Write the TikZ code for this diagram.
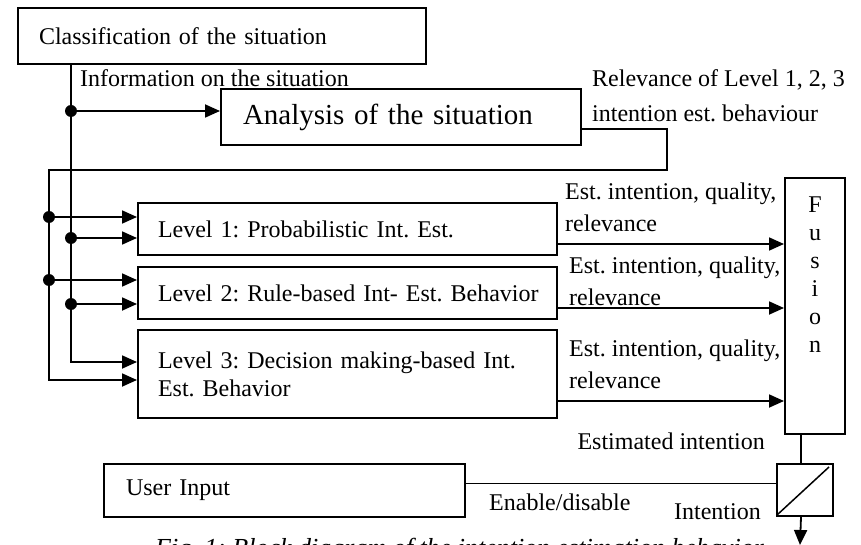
\documentclass[tikz,border=0pt]{standalone}
\usepackage{fontspec}
\setmainfont{Liberation Serif}
\usetikzlibrary{positioning, arrows.meta, calc}

\tikzset{
  blk/.style={draw, line width=2pt, align=left, inner xsep=20pt, inner ysep=0pt},
  wire/.style={line width=1.8pt},
  arr/.style={wire, -{Triangle[length=15pt,width=13pt]}},
  lbl/.style={inner sep=0pt, align=left},
  tap/.style={circle, fill, inner sep=0pt, minimum size=12pt},
}

\begin{document}
\frenchspacing
\begin{tikzpicture}[x=1pt, y=-1pt, font=\fontsize{24}{32}\selectfont]

  \useasboundingbox (0,0) rectangle (861,545);

  \node[blk, anchor=north west, inner xsep=21pt, text width=366pt, minimum height=56pt] (cls) at (17,7) {Classification of the situation};
  \node[blk, anchor=north west, inner xsep=22pt, text width=316pt, minimum height=56pt,
        font=\fontsize{29}{34}\selectfont] (ana) at (220,88) {Analysis of the situation};
  \node[blk, anchor=north west, text width=379pt, minimum height=52pt] (lvl1) at (137,202) {Level 1: Probabilistic Int. Est.};
  \node[blk, below=10pt of lvl1, text width=379pt, minimum height=52pt] (lvl2) {\mbox{Level 2: Rule-based Int- Est. Behavior}};
  \node[blk, below=9pt of lvl2, text width=379pt, minimum height=88pt,
        font=\fontsize{24}{28}\selectfont] (lvl3) {Level 3: Decision making-based Int.\\Est. Behavior};
  \node[draw, line width=2pt, anchor=north west, inner sep=0pt, minimum width=60pt, minimum height=256pt,
        label={[lbl, align=center, anchor=north, yshift=-20pt, font=\fontsize{24}{28}\selectfont]north:F\\u\\s\\i\\o\\n}] (fuse) at (784,177) {};
  \node[draw, line width=2pt, anchor=north west, inner sep=0pt, minimum width=56pt, minimum height=52pt] (sw) at (776,463) {};
  \node[blk, anchor=north west, inner xsep=22pt, text width=317pt, minimum height=53pt] (usr) at (103,463) {User Input};

  % information bus and relevance bus
  \coordinate (ia) at (71,111);
  \coordinate (ib) at (71,238);
  \coordinate (ic) at (71,304);
  \coordinate (id) at (71,362);
  \coordinate (rt) at (667,170);
  \coordinate (ra) at (49,217);
  \coordinate (rb) at (49,280);
  \coordinate (rc) at (49,380);

  \draw[arr] (cls.south -| ia) -- (id) -- (lvl3.west |- id);
  \draw[arr] (ia) -- (ana.west |- ia);
  \draw[arr] (ib) -- (lvl1.west |- ib);
  \draw[arr] (ic) -- (lvl2.west |- ic);
  \draw[arr] ($(ana.east)+(0,12)$) -| (rt) -| (rc) -- (lvl3.west |- rc);
  \draw[arr] (ra) -- (lvl1.west |- ra);
  \draw[arr] (rb) -- (lvl2.west |- rb);
  \foreach \p in {ia,ib,ic,ra,rb}
    \node[tap] at (\p) {};

  \foreach \b/\dy in {lvl1/15, lvl2/15, lvl3/27}
    \draw[arr] ($(\b.east)+(0,\dy)$) coordinate (o\b) -- (fuse.west |- o\b);

  \coordinate (fo) at ($(fuse.south)+(-14,0)$);
  \coordinate (iout) at (800,545);
  \draw[wire] (fo) -- (fo |- sw.north);
  \draw[arr] (fo |- sw.south) -- (iout);
  \draw[wire] ($(usr.east)+(0,-7)$) coordinate (ue) -- (sw.west |- ue);
  \draw[wire, line width=1.5pt] ([shift={(1pt,2pt)}]sw.south west) -- ([shift={(-5pt,-4pt)}]sw.north east);

  \node[lbl, anchor=west] (info) at (80,78) {Information on the situation};
  \node[lbl, anchor=north west, font=\fontsize{24}{35}\selectfont] (rel) at (592,69) {Relevance of Level 1, 2, 3\\intention est. behaviour};
  \node[lbl, anchor=north west] (est1) at (565,183) {Est. intention, quality,\\relevance};
  \node[lbl, anchor=north west] (est2) at (569,257) {Est. intention, quality,\\relevance};
  \node[lbl, anchor=north west] (est3) at (569,340) {Est. intention, quality,\\relevance};
  \node[lbl, anchor=east] (estint) at (765,441) {Estimated intention};
  \node[lbl, anchor=west] (endis) at (489,502) {Enable/disable};
  \node[lbl, anchor=east] (intn) at (761,512) {Intention};

  \begin{scope}
    \clip (0,0) rectangle (861,545);
    \node[lbl, anchor=base west, font=\fontsize{26}{30}\selectfont\itshape] (cap) at (155,556) {Fig. 1: Block diagram of the intention estimation behavior};
  \end{scope}

\end{tikzpicture}
\end{document}
